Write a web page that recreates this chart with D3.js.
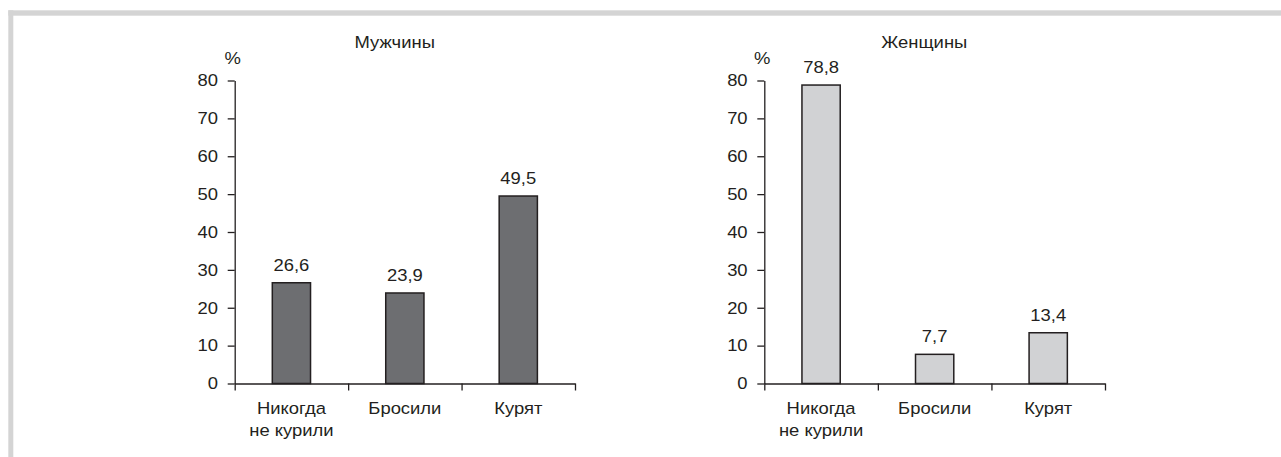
<!DOCTYPE html>
<html>
<head>
<meta charset="utf-8">
<script src="https://cdn.jsdelivr.net/npm/d3@7"></script>
<style>
  html, body { margin: 0; padding: 0; background: #fff; }
  svg { display: block; }
  text { font-family: "Liberation Sans", Arial, Helvetica, sans-serif; font-size: 16.6px; fill: #231f20; }
</style>
</head>
<body>
<svg id="chart" width="1281" height="457"></svg>
<script>
// Smoking status by sex, % of respondents
const categories = ["Никогда не курили", "Бросили", "Курят"];
const categoryLines = [["Никогда", "не курили"], ["Бросили"], ["Курят"]];
const menValues = [26.6, 23.9, 49.5];
const womenValues = [78.8, 7.7, 13.4];
const yTicks = [0, 10, 20, 30, 40, 50, 60, 70, 80];
const panelTitles = ["Мужчины", "Женщины"];
const unitLabel = "%";

const ink = "#231f20";
const stretch = "scale(1.11,1)";
const ru = d3.formatLocale({ decimal: ",", thousands: " ", grouping: [3], currency: ["", " ₽"] });
const fmt = ru.format(".1f");

const svg = d3.select("#chart");

// light grey frame along the top and left edges
svg.append("rect").attr("x", 8.3).attr("y", 10.3).attr("width", 1281 - 8.3).attr("height", 5.4).attr("fill", "#d4d4d4");
svg.append("rect").attr("x", 8.3).attr("y", 10.3).attr("width", 5).attr("height", 457 - 10.3).attr("fill", "#d4d4d4");

const y = d3.scaleLinear().domain([0, 80]).range([383.5, 80.5]);

function panel(x0, x1, values, title, fill) {
  const g = svg.append("g");

  const band = d3.scaleBand().domain(categories).range([x0, x1])
    .paddingInner(0.663).paddingOuter(0.3315);
  const edges = d3.scaleLinear().domain([0, categories.length]).range([x0, x1]);

  // y axis
  const ya = g.append("g").attr("transform", `translate(${x0},0)`)
    .call(d3.axisLeft(y).tickValues(yTicks).tickSize(7).tickSizeOuter(0));
  ya.attr("font-size", null).attr("font-family", null);
  ya.selectAll(".tick text")
    .attr("x", null)
    .attr("transform", `translate(-16.7,0) ${stretch}`);

  // x axis with ticks on the category boundaries
  const xa = g.append("g").attr("transform", `translate(0,${y(0)})`)
    .call(d3.axisBottom(edges).tickValues(d3.range(categories.length + 1))
      .tickSize(7).tickSizeOuter(0).tickFormat(() => ""));

  [ya, xa].forEach(a => {
    a.select(".domain").attr("stroke", ink).attr("stroke-width", 1.3);
    a.selectAll(".tick line").attr("stroke", ink).attr("stroke-width", 1.3);
    a.selectAll("text").attr("fill", ink);
  });

  // bars
  g.selectAll("rect.bar").data(values).join("rect")
    .attr("class", "bar")
    .attr("x", (d, i) => band(categories[i]))
    .attr("width", band.bandwidth())
    .attr("y", d => y(d))
    .attr("height", d => y(0) - y(d))
    .attr("fill", fill)
    .attr("stroke", ink)
    .attr("stroke-width", 1.5);

  // value labels
  g.selectAll("text.val").data(values).join("text")
    .attr("class", "val")
    .attr("text-anchor", "middle")
    .attr("transform", (d, i) => `translate(${band(categories[i]) + band.bandwidth() / 2},${y(d) - 12}) ${stretch}`)
    .text(d => fmt(d));

  // category labels
  categories.forEach((c, i) => {
    categoryLines[i].forEach((line, j) => {
      g.append("text")
        .attr("text-anchor", "middle")
        .attr("transform", `translate(${band(c) + band.bandwidth() / 2},${414 + j * 21.7}) ${stretch}`)
        .text(line);
    });
  });

  // unit and title
  g.append("text").attr("text-anchor", "middle")
    .attr("transform", `translate(${x0 - 2},${63.5}) ${stretch}`)
    .text(unitLabel);
  g.append("text").attr("text-anchor", "middle")
    .attr("transform", `translate(${x0 + 160},${47.7}) ${stretch}`)
    .text(title);
}

panel(234.7, 575, menValues, panelTitles[0], "#6d6e71");
panel(764.3, 1105, womenValues, panelTitles[1], "#d1d2d4");
</script>
</body>
</html>
